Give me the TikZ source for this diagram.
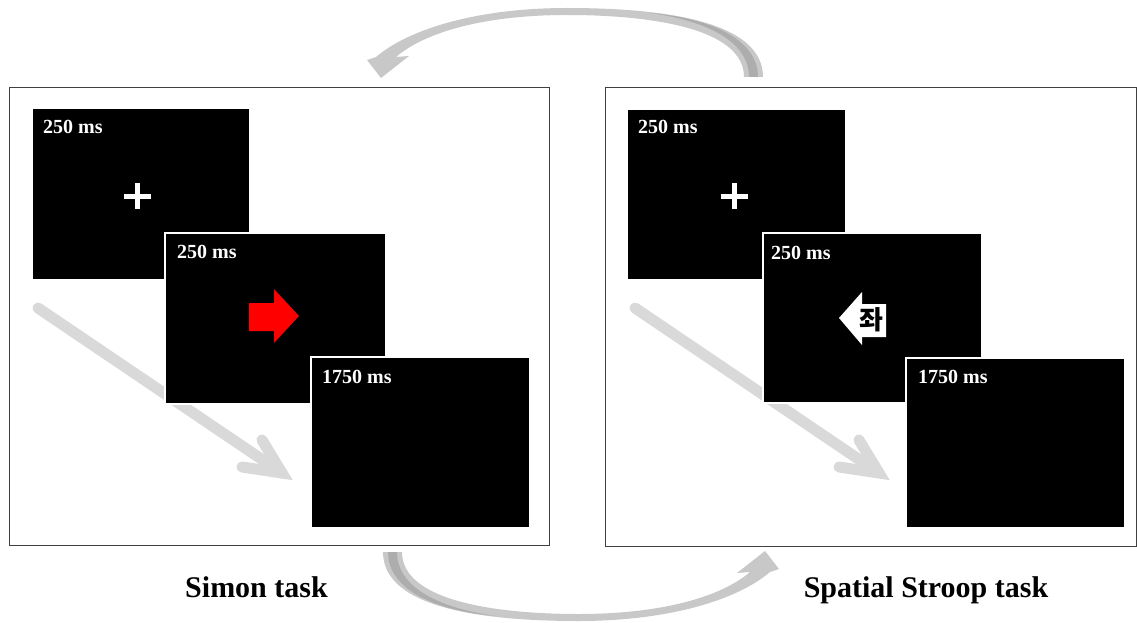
\documentclass[tikz,border=0pt]{standalone}
\usepackage{fontspec}
\setmainfont{Liberation Serif}
\newfontfamily\krfont{Noto Sans CJK KR}
\usetikzlibrary{positioning}

\definecolor{bandlight}{HTML}{C8C8C8}
\definecolor{banddark}{HTML}{ADADAD}
\definecolor{diaggray}{HTML}{D9D9D9}
\definecolor{framegray}{HTML}{404040}

% curved band with arrow head (drawn in pixel-like units)
\newcommand\loopband{%
  \fill[bandlight] (763,77) .. controls (763,20) and (660,8) .. (567,8)
     .. controls (480,8) and (410,28) .. (376,57) -- (367,60) -- (381,78)
     -- (409,56) -- (396,57) .. controls (425,32) and (485,15) .. (567,15)
     .. controls (650,15) and (744,28) .. (744,77) -- cycle;
  \fill[banddark] (758,77) .. controls (758,38) and (708,18) .. (650,13)
     .. controls (708,21) and (749,42) .. (749,77) -- cycle;
}

\tikzset{
  panel/.style={draw=framegray, line width=1.3pt, fill=white, inner sep=0pt, anchor=north west},
  screen/.style={fill=black, draw=white, line width=2.2pt, inner sep=0pt, anchor=north west,
    minimum width=219pt, minimum height=171pt},
  dur/.style={text=white, font=\fontsize{20}{21}\selectfont\bfseries, anchor=base west, inner sep=0pt},
  caption/.style={font=\fontsize{30}{32}\selectfont\bfseries, anchor=base, inner sep=0pt},
  crossbar/.style={white, line width=5pt},
  timeline/.style={diaggray, line width=11pt, line cap=round, line join=miter},
}

\begin{document}
\begin{tikzpicture}[x=1pt, y=-1pt]
\useasboundingbox (0,0) rectangle (1137,623);

% ---------- Simon task ----------
\node[panel, minimum width=540pt, minimum height=458pt] (simon) at (9,87) {};
\coordinate (st0) at (38,308);
\coordinate (st1) at (282,473);
\coordinate (sa1) at (262,440);
\coordinate (sa2) at (242,467);
\draw[timeline] (st0) -- (st1);
\draw[timeline] (sa1) -- (st1) -- (sa2);

\node[screen, minimum width=218pt, minimum height=172pt] (s1) at (31,107) {};
\node[screen, minimum width=221pt] (s2) at (164,232) {};
\node[screen] (s3) at (310,356) {};
\node[dur] (s1t) at (43,133) {250 ms};
\node[dur] (s2t) at (177,258) {250 ms};
\node[dur] (s3t) at (322,383) {1750 ms};
\coordinate (sc) at (137.5,196);
\draw[crossbar] ([xshift=-13.5pt]sc) -- ([xshift=13.5pt]sc);
\draw[crossbar] ([yshift=13pt]sc) -- ([yshift=-13pt]sc);
\fill[red] (249,303) -- (274,303) -- (274,289) -- (299,316) -- (274,343)
  -- (274,331) -- (249,331) -- cycle;
\node[caption] (simoncap) at (256.5,597) {Simon task};

% ---------- Spatial Stroop task ----------
\node[panel, minimum width=531pt, minimum height=459pt] (stroop) at (604.5,87) {};
\coordinate (rt0) at (635,308);
\coordinate (rt1) at (879,473);
\coordinate (ra1) at (859,440);
\coordinate (ra2) at (839,467);
\draw[timeline] (rt0) -- (rt1);
\draw[timeline] (ra1) -- (rt1) -- (ra2);

\node[screen] (r1) at (626,108) {};
\node[screen, minimum height=170pt] (r2) at (762,232) {};
\node[screen, minimum height=170pt] (r3) at (905,357) {};
\node[dur] (r1t) at (638,133) {250 ms};
\node[dur] (r2t) at (771,259) {250 ms};
\node[dur] (r3t) at (918,383) {1750 ms};
\coordinate (rc) at (734,196);
\draw[crossbar] ([xshift=-13.5pt]rc) -- ([xshift=13.5pt]rc);
\draw[crossbar] ([yshift=13pt]rc) -- ([yshift=-13pt]rc);
\fill[white] (839,318) -- (862,292) -- (862,304) -- (886,304) -- (886,337)
  -- (862,337) -- (862,345) -- cycle;
\node[inner sep=0pt, font=\krfont\bfseries\fontsize{26}{26}\selectfont] (jwa) at (871,320) {좌};
\node[caption] (stroopcap) at (926,597) {Spatial Stroop task};

% ---------- switching arrows ----------
\loopband
\begin{scope}[rotate around={180:(573,314.5)}]
  \loopband
\end{scope}
\end{tikzpicture}
\end{document}
